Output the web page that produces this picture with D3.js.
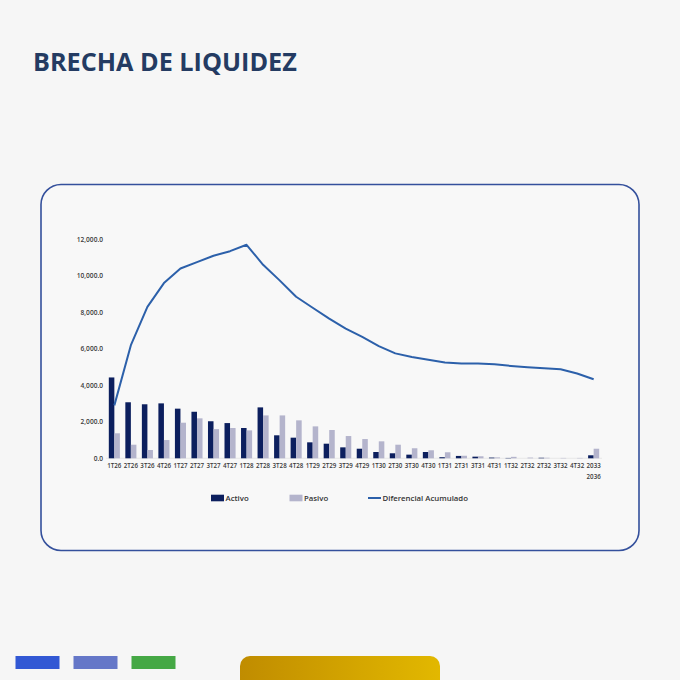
<!DOCTYPE html>
<html>
<head>
<meta charset="utf-8">
<script src="https://cdn.jsdelivr.net/npm/d3@7.9.0/dist/d3.min.js"></script>
<style>
  html, body { margin: 0; padding: 0; background: #f6f6f6; }
  svg { display: block; }
</style>
</head>
<body>
<svg id="chart" width="680" height="680"></svg>
<script>
// Quarter labels as they appear on the slide (the "2T32" repeat is in the original)
const periods = ["1T26", "2T26", "3T26", "4T26", "1T27", "2T27", "3T27", "4T27",
    "1T28", "2T28", "3T28", "4T28", "1T29", "2T29", "3T29", "4T29",
    "1T30", "2T30", "3T30", "4T30", "1T31", "2T31", "3T31", "4T31",
    "1T32", "2T32", "2T32", "3T32", "4T32", "2033\n2036"];

const activo = [4430, 3070, 2960, 3010, 2720, 2550, 2030, 1930,
    1660, 2790, 1260, 1130, 875, 800, 600, 525,
    345, 275, 200, 345, 60, 130, 90, 40,
    20, 0, 30, 0, 0, 165];

const pasivo = [1370, 745, 455, 1000, 1950, 2190, 1600, 1660,
    1530, 2350, 2350, 2080, 1750, 1550, 1220, 1055,
    930, 745, 550, 440, 330, 140, 110, 50,
    80, 40, 30, 20, 20, 525];

const diferencial = [2900, 6200, 8300, 9600, 10400, 10750, 11100, 11350,
    11700, 10600, 9750, 8850, 8250, 7650, 7100, 6650,
    6150, 5750, 5550, 5400, 5250, 5200, 5200, 5150,
    5060, 4990, 4930, 4880, 4650, 4330];

const yTicks = [0, 2000, 4000, 6000, 8000, 10000, 12000];

const colors = { activo: "#0c1f5e", pasivo: "#b4b4cc", line: "#2c60aa" };
const font = "'Open Sans', 'Noto Sans', sans-serif";

const svg = d3.select("#chart");

// Title
const title = svg.append("text")
    .attr("x", 33)
    .attr("y", 71)
    .attr("font-family", font)
    .attr("font-weight", 700)
    .attr("font-size", 28)
    .attr("fill", "#243b62")
    .text("BRECHA DE LIQUIDEZ");
const tw = title.node().getComputedTextLength();
title.attr("font-size", 28 * 264 / tw);

// Card
svg.append("rect")
    .attr("x", 41).attr("y", 184.5)
    .attr("width", 598).attr("height", 366)
    .attr("rx", 20)
    .attr("fill", "#f8f8f8")
    .attr("stroke", "#34509c")
    .attr("stroke-width", 1.6);

// Scales
const idx = periods.map((d, i) => i);
const x = d3.scaleBand().domain(idx).range([106, 602]).paddingInner(0.33).paddingOuter(0.17);
const xSub = d3.scaleBand().domain(["activo", "pasivo"]).range([0, x.bandwidth()]);
const y = d3.scaleLinear().domain([0, 12000]).range([458.3, 239.3]);
const cx = i => x(i) + x.bandwidth() / 2;

// Baseline
svg.append("line")
    .attr("x1", 106).attr("x2", 602)
    .attr("y1", y(0)).attr("y2", y(0))
    .attr("stroke", "#e2e2e2").attr("stroke-width", 0.8);

// Y axis
const yAxis = svg.append("g")
    .attr("transform", "translate(103,0)")
    .call(d3.axisLeft(y).tickValues(yTicks).tickFormat(d3.format(",.1f")).tickSize(0).tickPadding(0));
yAxis.select(".domain").remove();
yAxis.selectAll("text")
    .attr("font-family", font)
    .attr("font-size", 6.6)
    .attr("font-weight", 600)
    .attr("fill", "#3a3a3a");

// X axis
const xAxis = svg.append("g")
    .attr("transform", `translate(0,${y(0)})`)
    .call(d3.axisBottom(x).tickFormat("").tickSize(0));
xAxis.select(".domain").remove();
xAxis.selectAll(".tick").each(function (i) {
    const lines = periods[i].split("\n");
    const t = d3.select(this).append("text")
        .attr("y", 10)
        .attr("text-anchor", "middle")
        .attr("font-family", font)
        .attr("font-size", 6.2)
        .attr("font-weight", 600)
        .attr("fill", "#3a3a3a");
    lines.forEach((l, k) => {
        t.append("tspan").attr("x", 0).attr("dy", k === 0 ? 0 : 11).text(l);
    });
});

// Bars
const groups = svg.append("g").selectAll("g")
    .data(idx)
    .join("g")
    .attr("transform", i => `translate(${x(i)},0)`);

groups.append("rect")
    .attr("x", xSub("activo"))
    .attr("width", xSub.bandwidth())
    .attr("y", i => y(activo[i]))
    .attr("height", i => y(0) - y(activo[i]))
    .attr("fill", colors.activo);

groups.append("rect")
    .attr("x", xSub("pasivo"))
    .attr("width", xSub.bandwidth())
    .attr("y", i => y(pasivo[i]))
    .attr("height", i => y(0) - y(pasivo[i]))
    .attr("fill", colors.pasivo);

// Line
const line = d3.line().x((d, i) => cx(i)).y(d => y(d));
svg.append("path")
    .datum(diferencial)
    .attr("d", line)
    .attr("fill", "none")
    .attr("stroke", colors.line)
    .attr("stroke-width", 2)
    .attr("stroke-linejoin", "round");

// Legend
const legendItems = [
    { label: "Activo", type: "rect", color: colors.activo, x: 211 },
    { label: "Pasivo", type: "rect", color: colors.pasivo, x: 289.5 },
    { label: "Diferencial Acumulado", type: "line", color: colors.line, x: 368 }
];
const legend = svg.append("g").attr("transform", "translate(0,498)");
legendItems.forEach(d => {
    if (d.type === "rect") {
        legend.append("rect").attr("x", d.x).attr("y", -3.3).attr("width", 13).attr("height", 6.6).attr("fill", d.color);
    } else {
        legend.append("line").attr("x1", d.x).attr("x2", d.x + 13).attr("y1", 0).attr("y2", 0)
            .attr("stroke", d.color).attr("stroke-width", 2);
    }
    legend.append("text")
        .attr("x", d.x + 14.5)
        .attr("y", 2.8)
        .attr("font-family", font)
        .attr("font-size", 7.8)
        .attr("font-weight", 600)
        .attr("fill", "#333")
        .text(d.label);
});

// Footer decorations
const swatches = ["#3258d4", "#6577c8", "#45a845"];
svg.append("g").selectAll("rect")
    .data(swatches)
    .join("rect")
    .attr("x", (d, i) => 15.5 + i * 58)
    .attr("y", 656)
    .attr("width", 44)
    .attr("height", 13)
    .attr("fill", d => d);

const defs = svg.append("defs");
const grad = defs.append("linearGradient").attr("id", "gold").attr("x1", "0").attr("x2", "1");
grad.append("stop").attr("offset", "0").attr("stop-color", "#c08c00");
grad.append("stop").attr("offset", "1").attr("stop-color", "#e2b800");
svg.append("rect")
    .attr("x", 240).attr("y", 656)
    .attr("width", 200).attr("height", 40)
    .attr("rx", 10)
    .attr("fill", "url(#gold)");
</script>
</body>
</html>
